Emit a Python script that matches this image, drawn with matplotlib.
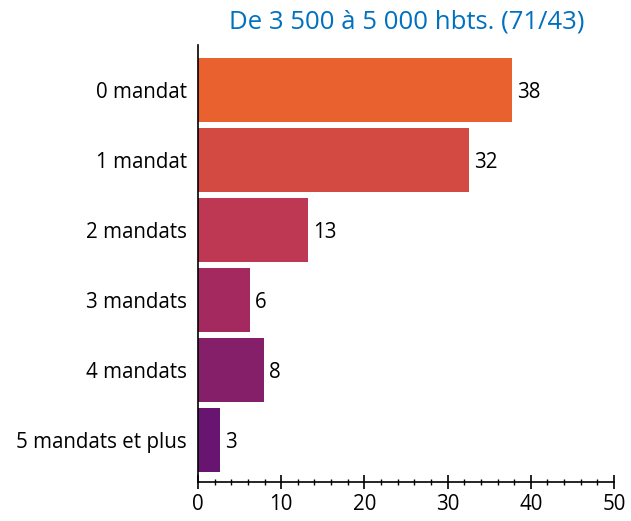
import matplotlib.pyplot as plt

categories = ['0 mandat', '1 mandat', '2 mandats', '3 mandats', '4 mandats', '5 mandats et plus']
values = [37.7, 32.6, 13.2, 6.2, 7.9, 2.7]
labels = ['38', '32', '13', '6', '8', '3']
colors = ['#E8612F', '#D34A43', '#BF3853', '#A3295F', '#851F69', '#671570']

plt.rcParams['font.family'] = ['Open Sans', 'DejaVu Sans']

fig = plt.figure(figsize=(6.31, 5.21), dpi=100)
ax = fig.add_axes([198 / 631, 1 - 482 / 521, 416 / 631, 437 / 521])

y = list(range(len(categories)))
bars = ax.barh(y, values, height=0.91, color=colors)
for bar, lab in zip(bars, labels):
    ax.text(bar.get_width() + 0.6, bar.get_y() + bar.get_height() / 2, lab,
            va='center_baseline', ha='left', fontsize=14.8)

ax.set_yticks(y)
ax.set_yticklabels(categories, fontsize=14.8)
ax.set_ylim(len(categories) - 1 + 0.6, -0.64)
ax.set_xlim(0, 50)
ax.set_xticks(range(0, 51, 10))
ax.set_xticks(range(0, 51, 2), minor=True)
ax.tick_params(axis='x', which='major', direction='inout', length=10, width=1.2, labelsize=14.8, pad=4)
ax.tick_params(axis='x', which='minor', direction='inout', length=5, width=1)
ax.tick_params(axis='y', length=0, pad=8)
for s in ['top', 'right']:
    ax.spines[s].set_visible(False)
for s in ['left', 'bottom']:
    ax.spines[s].set_linewidth(1.2)

fig.text(407 / 631, 1 - 22 / 521, 'De 3 500 à 5 000 hbts. (71/43)', color='#0070C0',
         fontsize=18.5, ha='center', va='center')

fig.savefig('out.png', dpi=100)
